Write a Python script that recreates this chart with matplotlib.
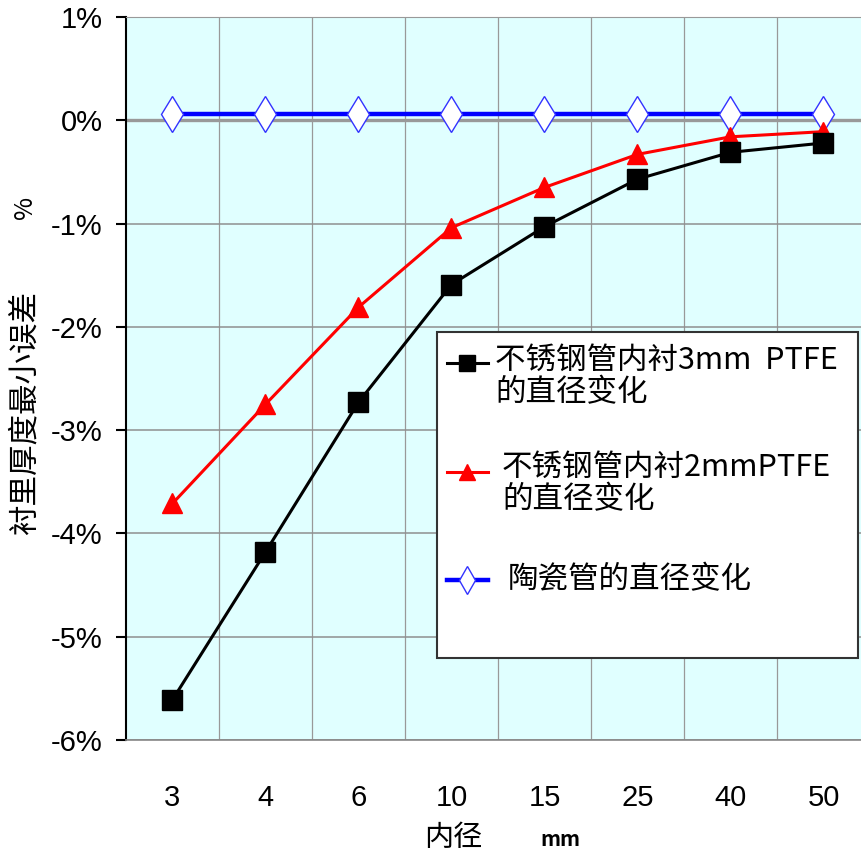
import numpy as np
import matplotlib
matplotlib.use("Agg")
import matplotlib.pyplot as plt
from matplotlib.lines import Line2D
from matplotlib.patches import Rectangle
from matplotlib.ticker import FuncFormatter, FixedLocator

plt.rcParams['font.family'] = ['Liberation Sans', 'DejaVu Sans']
CJK = ['Noto Sans CJK SC', 'DejaVu Sans']

# inner diameter (mm) and minimum lining-thickness error (%)
diameters = ['3', '4', '6', '10', '15', '25', '40', '50']
ss_3mm_ptfe = [-5.61, -4.18, -2.73, -1.59, -1.03, -0.57, -0.31, -0.22]
ss_2mm_ptfe = [-3.71, -2.75, -1.81, -1.04, -0.65, -0.33, -0.16, -0.11]
ceramic = [0.065, 0.065, 0.065, 0.065, 0.065, 0.065, 0.065, 0.065]

label_ss3 = ['不锈钢管内衬3mm  PTFE', '的直径变化']
label_ss2 = ['不锈钢管内衬2mmPTFE', '的直径变化']
label_cer = ['陶瓷管的直径变化']

W, H = 862, 858
fig = plt.figure(figsize=(W / 100, H / 100), dpi=100)


def fx(x):
    return x / W


def fy(y):
    return 1 - y / H


ax = fig.add_axes([fx(126), fy(740), (870 - 126) / W, (740 - 17) / H])
ax.set_facecolor('#e0ffff')

x = np.arange(len(diameters))
style_ss3 = dict(color='black', lw=2.2, marker='s', ms=14, mfc='black', mec='black')
style_ss2 = dict(color='#ff0000', lw=2.2, marker='^', ms=15, mfc='#ff0000', mec='#ff0000')
style_cer = dict(color='#0000ff', lw=3.2, marker='d', ms=18, mfc='white', mec='#3333ff', mew=1)

ax.axhline(0, color='#999999', lw=2.4, zorder=1)
ax.plot(x, ceramic, zorder=3, **style_cer)
ax.plot(x, ss_2mm_ptfe, zorder=4, **style_ss2)
ax.plot(x, ss_3mm_ptfe, zorder=5, **style_ss3)

ax.set_xlim(-0.5, len(diameters) - 0.5)
ax.set_ylim(-6, 1)
ax.set_xticks(x)
ax.set_xticklabels(diameters)
ax.xaxis.set_minor_locator(FixedLocator(np.arange(0.5, len(diameters) - 0.5, 1)))
ax.set_yticks(np.arange(-6, 2, 1))
ax.yaxis.set_major_formatter(FuncFormatter(lambda v, p: f'{v:.0f}%'))

ax.grid(True, axis='y', which='major', color='#8f8f8f', lw=1.1, zorder=0)
ax.grid(True, axis='x', which='minor', color='#999999', lw=0.9, zorder=0)
ax.set_axisbelow(True)

ax.tick_params(axis='x', which='both', length=0, pad=32, labelsize=21)
ax.tick_params(axis='y', length=7, width=1.5, direction='out', pad=10, labelsize=21)
ax.spines['left'].set_color('black')
ax.spines['left'].set_linewidth(1.5)
ax.spines['bottom'].set_color('#888888')
ax.spines['bottom'].set_linewidth(1.2)
ax.spines['top'].set_color('#999999')
ax.spines['right'].set_visible(False)

# axis titles
fig.text(fx(25), fy(413), '衬里厚度最小误差', rotation=90, ha='center', va='center',
         fontsize=22, family=CJK)
fig.text(fx(25), fy(207), '%', rotation=90, ha='center', va='center',
         fontsize=18, family=CJK)
fig.text(fx(453), fy(838), '内径', ha='center', va='center', fontsize=21, family=CJK)
fig.text(fx(560), fy(840), 'mm', ha='center', va='center', fontsize=15, family=CJK,
         weight='bold')

# legend box
fig.patches.append(Rectangle((fx(437), fy(658)), (858 - 437) / W, (658 - 332) / H,
                             transform=fig.transFigure, facecolor='white',
                             edgecolor='#333333', lw=1.5, zorder=10))


def legend_entry(style, y_handle, x_text, y_lines, lines):
    xs = [fx(447), fx(488)]
    ln = Line2D(xs, [fy(y_handle)] * 2, transform=fig.transFigure, zorder=11,
                **{k: v for k, v in style.items() if k != 'marker'})
    mk = Line2D([fx(467)], [fy(y_handle)], transform=fig.transFigure, zorder=12,
                linestyle='none', marker=style['marker'],
                ms=style['ms'] * 0.8, mfc=style['mfc'], mec=style['mec'],
                mew=style.get('mew', 1))
    fig.lines.extend([ln, mk])
    for yl, txt in zip(y_lines, lines):
        fig.text(fx(x_text), fy(yl), txt, ha='left', va='center', fontsize=22,
                 family=CJK, zorder=12)


legend_entry(style_ss3, 363, 495, [360, 393], label_ss3)
legend_entry(style_ss2, 472, 502, [467, 500], label_ss2)
legend_entry(style_cer, 580, 508, [580], label_cer)

fig.savefig('out.png', dpi=100)
